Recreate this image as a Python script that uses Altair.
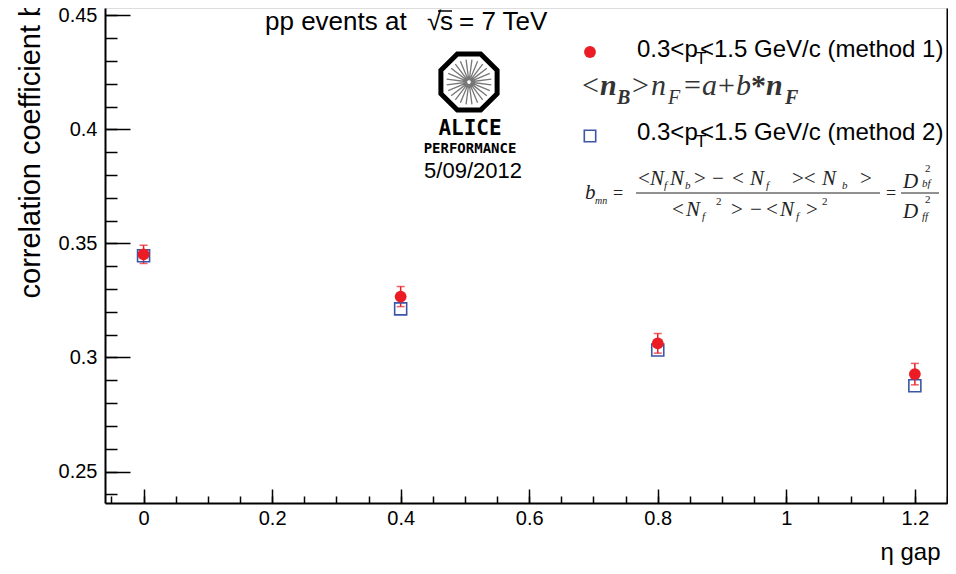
import math
import altair as alt
import pandas as pd

# ---------------- data ----------------
eta_gap = [0.0, 0.4, 0.8, 1.2]
b_method1 = [0.3452, 0.3267, 0.3062, 0.2927]
b_method1_err = [0.0040, 0.0044, 0.0043, 0.0047]
b_method2 = [0.3446, 0.3213, 0.3033, 0.2876]

x_major = [0.0, 0.2, 0.4, 0.6, 0.8, 1.0, 1.2]
x_minor = [-0.05, 0.0, 0.05, 0.1, 0.15, 0.2, 0.25, 0.3, 0.35, 0.4, 0.45, 0.5,
           0.55, 0.6, 0.65, 0.7, 0.75, 0.8, 0.85, 0.9, 0.95, 1.0, 1.05, 1.1,
           1.15, 1.2, 1.25]
y_major = [0.25, 0.30, 0.35, 0.40, 0.45]
y_minor = [0.24, 0.25, 0.26, 0.27, 0.28, 0.29, 0.30, 0.31, 0.32, 0.33, 0.34,
           0.35, 0.36, 0.37, 0.38, 0.39, 0.40, 0.41, 0.42, 0.43, 0.44, 0.45]

X_DOMAIN = [-0.06, 1.25]
Y_DOMAIN = [0.2362, 0.4532]

W, H = 842, 495
OX, OY = 105, 8  # page position of the plot origin

SANS = "Liberation Sans"
SERIF = "Liberation Serif"
RED = "#ec1c24"
BLUE = "#3b55a8"

df = pd.DataFrame({
    "eta": eta_gap,
    "m1": b_method1,
    "lo": [v - e for v, e in zip(b_method1, b_method1_err)],
    "hi": [v + e for v, e in zip(b_method1, b_method1_err)],
    "m2": b_method2,
})

xs = alt.Scale(domain=X_DOMAIN, nice=False, zero=False)
ys = alt.Scale(domain=Y_DOMAIN, nice=False, zero=False)

base = alt.Chart(df)

# axes ---------------------------------------------------------
ax_x_labels = alt.Axis(orient="bottom", values=x_major, format=".1~f", ticks=False,
                       labelPadding=5, labelFont=SANS, labelFontSize=20, labelColor="black",
                       domain=True, domainColor="black", domainWidth=2, grid=False,
                       title="η gap", titleFont=SANS, titleFontSize=24, titleFontWeight="normal",
                       titleColor="black", titleAlign="right", titleAnchor="end",
                       titleBaseline="alphabetic", titleX=940 - OX, titleY=56)
ax_y_labels = alt.Axis(orient="left", values=y_major, format=".2~f", ticks=False,
                       labelPadding=8, labelFont=SANS, labelFontSize=20, labelColor="black",
                       domain=True, domainColor="black", domainWidth=2, grid=False,
                       title="correlation coefficient b", titleFont=SANS, titleFontSize=29,
                       titleFontWeight="normal", titleColor="black", titleAngle=270,
                       titleAlign="left", titleBaseline="alphabetic",
                       titleX=39 - OX, titleY=298 - OY)
ax_x_major = alt.Axis(orient="top", offset=-H, values=x_major, labels=False, domain=False,
                      grid=False, tickSize=14, tickWidth=1.5, tickColor="black", title=None)
ax_x_minor = alt.Axis(orient="top", offset=-H, values=x_minor, labels=False, domain=False,
                      grid=False, tickSize=7, tickWidth=1.5, tickColor="black", title=None)
ax_y_major = alt.Axis(orient="right", offset=-W, values=y_major, labels=False, domain=False,
                      grid=False, tickSize=25, tickWidth=1.5, tickColor="black", title=None)
ax_y_minor = alt.Axis(orient="right", offset=-W, values=y_minor, labels=False, domain=False,
                      grid=False, tickSize=12, tickWidth=1.5, tickColor="black", title=None)
ax_y_frame = alt.Axis(orient="right", labels=False, ticks=False, domain=True,
                      domainColor="black", domainWidth=2, grid=False, title=None)

# data marks ---------------------------------------------------
err_rule = base.mark_rule(color=RED, strokeWidth=1.5).encode(
    x=alt.X("eta:Q", scale=xs, axis=ax_x_labels),
    y=alt.Y("lo:Q", scale=ys, axis=ax_y_labels),
    y2="hi:Q",
)
cap_hi = base.mark_tick(color=RED, orient="horizontal", size=8, thickness=1.5).encode(
    x=alt.X("eta:Q", scale=xs, axis=ax_x_major),
    y=alt.Y("hi:Q", scale=ys, axis=ax_y_major),
)
cap_lo = base.mark_tick(color=RED, orient="horizontal", size=8, thickness=1.5).encode(
    x=alt.X("eta:Q", scale=xs, axis=ax_x_minor),
    y=alt.Y("lo:Q", scale=ys, axis=ax_y_minor),
)
squares = base.mark_point(shape="square", filled=False, color=BLUE, size=144,
                          strokeWidth=1.6, opacity=1).encode(
    x=alt.X("eta:Q", scale=xs, axis=None),
    y=alt.Y("m2:Q", scale=ys, axis=ax_y_frame),
)
circles = base.mark_point(shape="circle", filled=True, color=RED, size=140, opacity=1).encode(
    x=alt.X("eta:Q", scale=xs, axis=None),
    y=alt.Y("m1:Q", scale=ys, axis=None),
)

# annotations --------------------------------------------------
one = pd.DataFrame({"k": [0]})


def txt(s, x, y, size, font=SANS, style="normal", weight="normal", color="black",
        align="left", baseline="alphabetic"):
    return alt.Chart(one).mark_text(
        text=s, font=font, fontSize=size, fontStyle=style, fontWeight=weight,
        color=color, align=align, baseline=baseline,
    ).encode(x=alt.value(x - OX), y=alt.value(y - OY))


def sym(shape, x, y, size, **kw):
    return alt.Chart(one).mark_point(shape=shape, size=size, opacity=1, **kw).encode(
        x=alt.value(x - OX), y=alt.value(y - OY))


def hline(x1, x2, y, color="#333", width=1):
    return alt.Chart(one).mark_rule(color=color, strokeWidth=width).encode(
        x=alt.value(x1 - OX), x2=alt.value(x2 - OX), y=alt.value(y - OY))


ann = []
# header: pp events at sqrt(s) = 7 TeV
ann.append(txt("pp events at", 265, 30, 26))
ann.append(txt("√", 427, 30, 26))
ann.append(txt("s", 440, 30, 26))
ann.append(hline(438, 452, 11, "black", 1.5))
ann.append(txt("= 7 TeV", 459, 30, 26))

# ALICE logo
oct_pts = []
for k in range(8):
    a = math.radians(22.5 + 45 * k)
    oct_pts.append(f"{math.cos(a):.3f},{math.sin(a):.3f}")
oct_path = "M" + "L".join(oct_pts) + "Z"
ray_path = ""
for k in range(24):
    a = math.radians(7.5 + 15 * k)
    ray_path += f"M{0.06*math.cos(a):.3f},{0.06*math.sin(a):.3f}L{0.74*math.cos(a):.3f},{0.74*math.sin(a):.3f}"
ann.append(sym(ray_path, 469, 82, 3700, filled=False, stroke="#777", strokeWidth=1.3))
ann.append(sym(oct_path, 469, 82, 3700, filled=False, stroke="black", strokeWidth=5))
ann.append(txt("ALICE", 470, 135, 21, font="DejaVu Sans Mono", weight="bold", align="center"))
ann.append(txt("PERFORMANCE", 470, 153, 14, font="DejaVu Sans Mono", weight="bold", align="center"))
ann.append(txt("5/09/2012", 473, 178, 22, align="center"))

# legend entry 1
ann.append(sym("circle", 590, 52, 140, filled=True, color=RED))
ann.append(txt("0.3<p", 637, 57, 24))
ann.append(txt("T", 696, 64, 17))
ann.append(txt("<1.5 GeV/c (method 1)", 700, 57, 24))

# formula 1
F1C = "#333333"
f1 = [("<", 582, 30, 0, "normal", "normal"),
      ("n", 600, 30, 0, "italic", "bold"),
      ("B", 617, 20, 9, "italic", "bold"),
      (">", 632, 30, 0, "normal", "normal"),
      ("n", 651, 30, 0, "italic", "normal"),
      ("F", 668, 20, 9, "italic", "normal"),
      ("=", 684, 30, 0, "normal", "normal"),
      ("a", 702, 30, 0, "italic", "normal"),
      ("+", 718, 30, 0, "normal", "normal"),
      ("b", 736, 30, 0, "italic", "normal"),
      ("*", 751, 30, 0, "normal", "bold"),
      ("n", 766, 30, 0, "italic", "bold"),
      ("F", 785, 20, 9, "italic", "bold")]
for s, x, sz, dy, st, wt in f1:
    ann.append(txt(s, x, 95 + dy, sz, font=SERIF, style=st, weight=wt, color=F1C))

# legend entry 2
ann.append(sym("square", 590, 136, 130, filled=False, color=BLUE, strokeWidth=1.6))
ann.append(txt("0.3<p", 637, 140, 24))
ann.append(txt("T", 696, 147, 17))
ann.append(txt("<1.5 GeV/c (method 2)", 700, 140, 24))

# formula 2
F2C = "#222222"
ann.append(txt("b", 585, 199, 21, font=SERIF, style="italic", color=F2C))
ann.append(txt("mn", 595, 204, 10, font=SERIF, style="italic", color=F2C))
ann.append(txt("=", 613, 199, 18, font=SERIF, color=F2C))
ann.append(hline(636, 880, 193, F2C, 1))
num = [("<", 638, 21, 0), ("N", 650, 21, 0), ("f", 664, 11, 4), ("N", 670, 21, 0),
       ("b", 685, 11, 4), (">", 694, 21, 0), ("−", 712, 21, 0), ("<", 732, 21, 0),
       ("N", 750, 21, 0), ("f", 766, 11, 4), ("><", 792, 21, 0), ("N", 822, 21, 0),
       ("b", 842, 11, 4), (">", 860, 21, 0)]
for s, x, sz, dy in num:
    it = "normal" if s in "<>−><" else "italic"
    ann.append(txt(s, x, 185 + dy, sz, font=SERIF, style=it, color=F2C))
den = [("<", 672, 21, 0), ("N", 686, 21, 0), ("f", 702, 11, 4), ("2", 716, 11, -11),
       (">", 731, 21, 0), ("−", 750, 21, 0), ("<", 766, 21, 0), ("N", 780, 21, 0),
       ("f", 796, 11, 4), (">", 806, 21, 0), ("2", 822, 11, -11)]
for s, x, sz, dy in den:
    it = "normal" if s in "<>−2" else "italic"
    ann.append(txt(s, x, 216 + dy, sz, font=SERIF, style=it, color=F2C))
ann.append(txt("=", 886, 199, 18, font=SERIF, color=F2C))
ann.append(hline(901, 939, 193, F2C, 1))
ann.append(txt("D", 903, 188, 21, font=SERIF, style="italic", color=F2C))
ann.append(txt("2", 925, 172, 11, font=SERIF, color=F2C))
ann.append(txt("bf", 922, 187, 11, font=SERIF, style="italic", color=F2C))
ann.append(txt("D", 903, 218, 21, font=SERIF, style="italic", color=F2C))
ann.append(txt("2", 925, 203, 11, font=SERIF, color=F2C))
ann.append(txt("ff", 922, 220, 11, font=SERIF, style="italic", color=F2C))

chart = alt.layer(err_rule, cap_hi, cap_lo, squares, circles, *ann).resolve_axis(
    x="independent", y="independent"
).properties(
    width=W, height=H,
    autosize=alt.AutoSizeParams(type="none"),
    padding={"left": OX - 8, "top": OY - 8, "right": 1, "bottom": 66},
).configure_view(stroke=None).configure(background="white")

chart.save("out.html", embed_options={"renderer": "svg", "actions": False})
